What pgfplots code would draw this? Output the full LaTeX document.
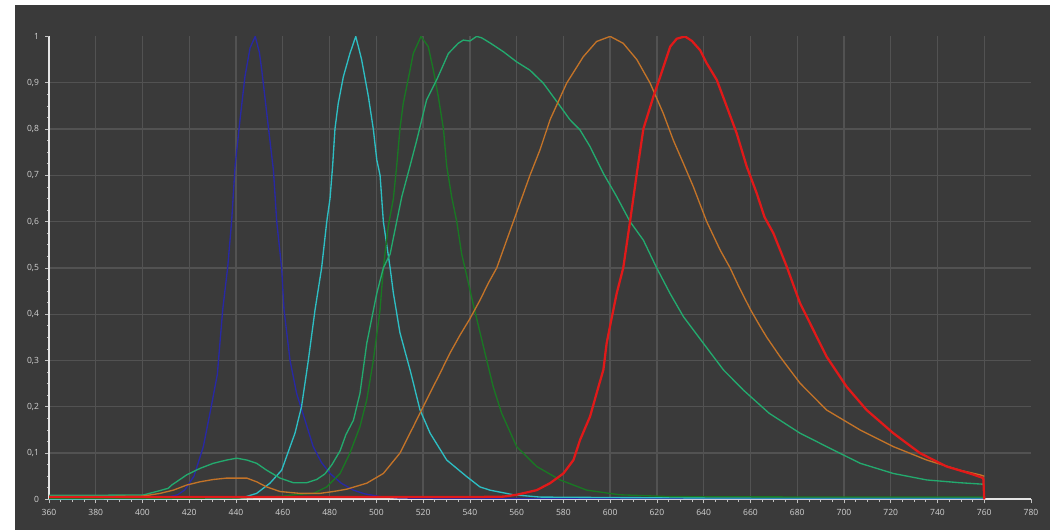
\documentclass[border=0pt]{standalone}
\usepackage{fontspec}
\setmainfont{Open Sans}
\usepackage{pgfplots}
\pgfplotsset{compat=1.18}
\usepackage{pgfplotstable}
\definecolor{bgc}{RGB}{58,58,58}
\definecolor{gridc}{RGB}{82,82,82}
\definecolor{axc}{RGB}{228,228,228}
\definecolor{labc}{RGB}{210,210,210}
\definecolor{cblue}{RGB}{40,40,165}
\definecolor{ccyan}{RGB}{45,190,195}
\definecolor{cdgreen}{RGB}{25,120,35}
\definecolor{cmgreen}{RGB}{35,170,110}
\definecolor{corange}{RGB}{195,115,40}
\definecolor{cred}{RGB}{225,25,25}

\pgfplotstableread{
x y
360 0.002
400 0.002
410 0.004
415 0.01
418 0.02
422 0.05
426 0.114
429 0.19
432 0.27
434.3 0.41
436.4 0.50
438.1 0.60
439.6 0.72
441.7 0.82
443.8 0.913
446 0.975
448.2 1.0
450 0.965
451 0.927
453.8 0.805
456 0.71
457.4 0.60
459.5 0.50
460.5 0.41
463.1 0.30
465.9 0.229
469.5 0.171
473 0.114
476.5 0.08
480.2 0.056
485 0.035
490.2 0.02
495 0.012
501.6 0.006
510 0.003
530 0.002
760 0.002
}\blue

\pgfplotstableread{
x y
360 0.001
430 0.002
440 0.003
443 0.004
448.8 0.013
454.5 0.035
459.5 0.063
465.2 0.143
468 0.2
470.9 0.30
473.8 0.41
476.6 0.50
478.8 0.60
480.2 0.65
481.3 0.72
482.3 0.80
483.7 0.855
485.9 0.913
488.7 0.963
491.2 1.0
493.7 0.95
496.6 0.87
498.7 0.80
500.2 0.733
501.6 0.70
503 0.60
505.9 0.50
507.3 0.445
510.1 0.36
514.4 0.28
518.7 0.193
523 0.143
530.1 0.085
538.7 0.049
544.3 0.027
548.6 0.02
558.6 0.01
570 0.005
600 0.004
650 0.003
760 0.003
}\cyan

\pgfplotstableread{
x y
360 0.002
440 0.003
460 0.007
464.5 0.01
473.1 0.013
478.8 0.027
484.5 0.056
488.7 0.10
493 0.157
495.9 0.215
498.7 0.30
501.6 0.41
503 0.50
505.1 0.59
507.3 0.65
508.7 0.72
510.1 0.80
511.5 0.855
514.4 0.927
515.8 0.963
519.1 1.0
522.2 0.978
524.4 0.927
526.5 0.87
528.7 0.80
530.1 0.72
532.2 0.654
534.4 0.60
536.5 0.53
537.9 0.50
541.5 0.42
545.8 0.33
550 0.243
553.6 0.186
560 0.114
568.6 0.071
578.6 0.042
590 0.02
604 0.01
625.6 0.006
700 0.005
760 0.005
}\dgreen

\pgfplotstableread{
x y
360 0.009
380 0.009
400.3 0.0095
406 0.017
411 0.024
412.5 0.031
418.9 0.053
424.6 0.067
430.3 0.078
436 0.085
440.3 0.089
444.6 0.085
448.8 0.078
453.1 0.063
458.8 0.046
464.5 0.036
470.2 0.036
474.5 0.043
478 0.055
481 0.075
484.5 0.105
487 0.14
490.2 0.171
493 0.229
495.9 0.337
500.2 0.445
503 0.50
505.9 0.53
508.7 0.60
510.9 0.654
514.4 0.72
517.3 0.776
521.5 0.863
525.8 0.906
530.8 0.963
535 0.985
537.2 0.992
540 0.99
542.9 1.0
545 0.997
548.6 0.986
554.3 0.967
560 0.945
565.7 0.927
571.4 0.899
577.8 0.855
582.8 0.82
587.1 0.798
591.4 0.762
597.1 0.704
602.8 0.654
608.5 0.60
614.2 0.56
619.9 0.50
625.6 0.445
631.3 0.395
639.9 0.337
648.4 0.28
657 0.236
668 0.186
681.2 0.143
692.6 0.114
706.9 0.078
721.1 0.056
735.4 0.042
749.6 0.036
758.9 0.033
760 0.033
}\mgreen

\pgfplotstableread{
x y
360 0.006
380 0.006
400 0.007
407.5 0.013
413.2 0.02
418.9 0.031
424.6 0.038
430.3 0.043
436 0.046
444.6 0.046
448.8 0.038
453.1 0.027
458.8 0.017
467.4 0.013
475.9 0.013
481.6 0.017
487.3 0.022
495.9 0.035
503 0.056
510.1 0.10
515.8 0.157
521.5 0.215
527.2 0.272
531.5 0.316
535.8 0.355
540 0.39
544.3 0.43
548 0.468
551.5 0.50
558.6 0.60
565.7 0.70
570 0.755
574.3 0.82
581.4 0.899
588.5 0.956
594.2 0.989
600 1.0
605.6 0.985
611.4 0.95
617.1 0.899
622.7 0.834
627 0.776
631.3 0.726
635.6 0.675
641.3 0.60
647 0.539
651.3 0.50
655 0.46
660 0.41
664 0.375
667 0.35
672.7 0.308
681.2 0.251
692.6 0.193
706.9 0.15
721.1 0.114
735.4 0.085
749.6 0.063
758.2 0.053
760 0.05
}\orange

\pgfplotstableread{
x y
360 0.005
450 0.005
540 0.005
554.3 0.006
560 0.01
568.6 0.02
574.3 0.035
580 0.056
584.3 0.085
587.1 0.128
591.4 0.179
594.2 0.229
597.1 0.28
598.5 0.337
599.9 0.373
602.8 0.445
605.6 0.50
608.5 0.60
611.4 0.704
614.2 0.80
618.5 0.87
621.4 0.913
625.7 0.978
628.5 0.995
632 1.0
635 0.99
638.5 0.97
641.3 0.942
645.6 0.906
649.9 0.848
654.1 0.791
658.4 0.719
662.7 0.661
666 0.61
669.8 0.575
675.5 0.503
681.2 0.424
686.9 0.366
692.6 0.308
701.2 0.243
709.7 0.193
721.1 0.143
732.5 0.10
743.9 0.071
753.9 0.056
759.6 0.046
760 0.0
}\red

\begin{document}
\begin{tikzpicture}[x=1pt,y=1pt]
\path[use as bounding box] (0,0) rectangle (791.25,397.5);
\fill[bgc] (11.25,0) rectangle (787.5,393.75);
\begin{axis}[
  at={(36.75pt,22.95pt)}, anchor=south west,
  scale only axis, width=736.5pt, height=347.25pt,
  xmin=360, xmax=780, ymin=0, ymax=1,
  axis lines=left,
  axis line style={-, draw=axc, line width=1.4pt},
  xtick={360,380,400,420,440,460,480,500,520,540,560,580,600,620,640,660,680,700,720,740,760},
  extra x ticks={780},
  ytick={0,0.1,0.2,0.3,0.4,0.5,0.6,0.7,0.8,0.9},
  extra y ticks={1},
  extra tick style={grid=none},
  minor x tick num=3, minor y tick num=3,
  grid=major,
  major grid style={draw=gridc, line width=1pt},
  tick align=outside,
  major tick length=3pt, minor tick length=1.6pt,
  tick style={draw=axc!80!bgc, line width=0.5pt},
  /pgf/number format/assume math mode=true,
  /pgf/number format/use comma,
  /pgf/number format/1000 sep={},
  ticklabel style={font=\fontsize{6.4}{7}\selectfont, text=labc},
  xticklabel style={yshift=-1pt},
  yticklabel style={xshift=-1pt},
  every axis plot/.append style={no marks, line join=round, line width=1pt},
]
\addplot[cblue] table[x=x,y=y]{\blue};
\addplot[ccyan] table[x=x,y=y]{\cyan};
\addplot[cdgreen] table[x=x,y=y]{\dgreen};
\addplot[cmgreen] table[x=x,y=y]{\mgreen};
\addplot[corange] table[x=x,y=y]{\orange};
\addplot[cred, line width=1.7pt] table[x=x,y=y]{\red};
\end{axis}
\end{tikzpicture}
\end{document}
